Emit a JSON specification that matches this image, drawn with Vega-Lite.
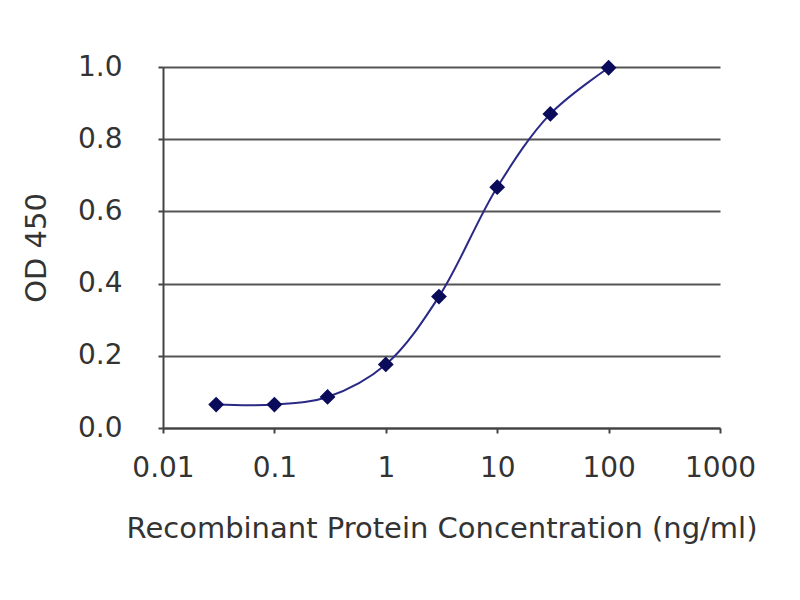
{
  "$schema": "https://vega.github.io/schema/vega-lite/v6.json",
  "autosize": "none",
  "width": 557,
  "height": 361,
  "padding": {"left": 163, "top": 67, "right": 80, "bottom": 172},
  "background": "white",
  "config": {
    "view": {"stroke": null},
    "font": "DejaVu Sans",
    "axis": {
      "labelFont": "DejaVu Sans",
      "titleFont": "DejaVu Sans",
      "labelFontSize": 28,
      "titleFontSize": 29,
      "labelColor": "#333333",
      "titleColor": "#333333",
      "titleFontWeight": "normal",
      "domainColor": "#444444",
      "domainWidth": 2,
      "tickColor": "#444444",
      "tickWidth": 2,
      "tickSize": 5
    }
  },
  "data": {
    "values": [
      {"conc": 0.03, "od": 0.065},
      {"conc": 0.1, "od": 0.065},
      {"conc": 0.3, "od": 0.086},
      {"conc": 1, "od": 0.176},
      {"conc": 3, "od": 0.364},
      {"conc": 10, "od": 0.667},
      {"conc": 30, "od": 0.87},
      {"conc": 100, "od": 0.998}
    ]
  },
  "encoding": {
    "x": {
      "field": "conc",
      "type": "quantitative",
      "scale": {"type": "log", "domain": [0.01, 1000], "nice": false},
      "axis": {
        "title": "Recombinant Protein Concentration (ng/ml)",
        "values": [0.01, 0.1, 1, 10, 100, 1000],
        "format": "~g",
        "grid": false,
        "labelPadding": 21,
        "titlePadding": 32,
        "labelFlush": false
      }
    },
    "y": {
      "field": "od",
      "type": "quantitative",
      "scale": {"domain": [0, 1], "nice": false},
      "axis": {
        "title": "OD 450",
        "values": [0, 0.2, 0.4, 0.6, 0.8, 1.0],
        "format": ".1f",
        "grid": true,
        "gridColor": "#555555",
        "gridWidth": 2,
        "labelPadding": 36,
        "titlePadding": 26
      }
    }
  },
  "layer": [
    {
      "mark": {"type": "line", "interpolate": "catmull-rom", "color": "#2a2a86", "strokeWidth": 2}
    },
    {
      "mark": {"type": "point", "shape": "diamond", "filled": true, "opacity": 1, "color": "#0b0b5c", "size": 250}
    }
  ]
}
